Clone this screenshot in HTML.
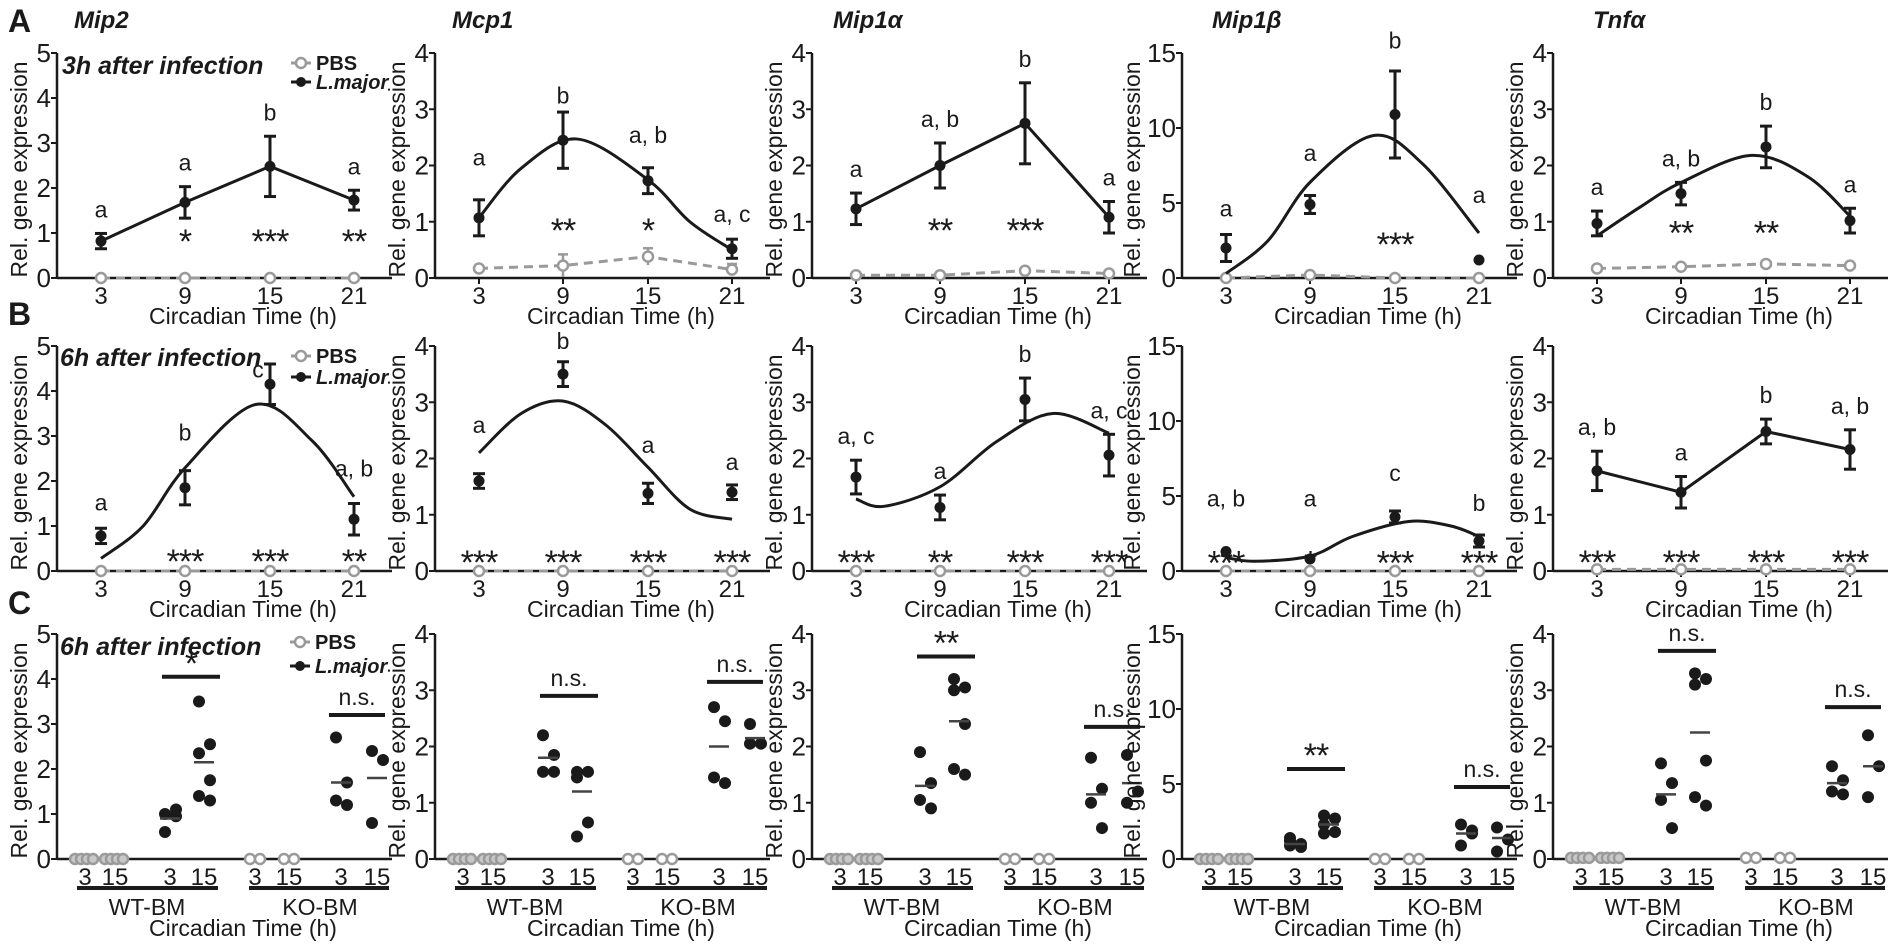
<!DOCTYPE html>
<html><head><meta charset="utf-8"><style>
html,body{margin:0;padding:0;background:#fff;}
svg{display:block;font-family:"Liberation Sans",Arial,sans-serif;}
</style></head><body>
<svg id="s" width="1900" height="944" xmlns="http://www.w3.org/2000/svg"></svg>
<script>
const S=document.getElementById('s');
let out='';
const AX=[57,435,812,1182,1553];
const ROW=[[53,278],[346,571],[634,859]];
const CT={3:44,9:128,15:213,21:297};
const DK='#1a1a1a', GR='#9a9a9a';
function T(x,y,t,o){o=o||{};out+=`<text x="${x}" y="${y}" font-size="${o.fs||20}" ${o.a?`text-anchor="${o.a}"`:''} ${o.fw?`font-weight="${o.fw}"`:''} ${o.it?'font-style="italic"':''} fill="${o.c||DK}" ${o.tr?`transform="${o.tr}"`:''} ${o.ls?`letter-spacing="${o.ls}"`:''}>${t}</text>`;}
function L(x1,y1,x2,y2,c,w,d){out+=`<line x1="${x1}" y1="${y1}" x2="${x2}" y2="${y2}" stroke="${c||DK}" stroke-width="${w||2}" ${d?`stroke-dasharray="${d}"`:''}/>`;}
function C(x,y,r,f,st,sw){out+=`<circle cx="${x}" cy="${y}" r="${r}" fill="${f}" ${st?`stroke="${st}" stroke-width="${sw}"`:''}/>`;}
function axes(p,r,max,step){
  const x0=AX[p],[top,bot]=ROW[r];
  const Y=v=>bot-(v/max)*(bot-top);
  L(x0,top,x0,bot+1,DK,2.5);
  L(x0,bot,x0+335,bot,DK,2.5);
  for(let v=0;v<=max;v+=step){const y=Y(v);L(x0-6,y,x0,y,DK,2);T(x0-6,y+9,v,{fs:26,a:'end'});}
  T(0,0,'Rel. gene expression',{fs:23,a:'middle',tr:`translate(${x0-(max>9?42:30)},${(top+bot)/2+4}) rotate(-90)`});
  return Y;
}
function spline(pts){
  let d=`M${pts[0][0]},${pts[0][1]}`;
  for(let i=0;i<pts.length-1;i++){
    const p0=pts[i-1]||pts[i],p1=pts[i],p2=pts[i+1],p3=pts[i+2]||p2;
    const c1=[p1[0]+(p2[0]-p0[0])/6,p1[1]+(p2[1]-p0[1])/6],c2=[p2[0]-(p3[0]-p1[0])/6,p2[1]-(p3[1]-p1[1])/6];
    d+=` C${c1[0]},${c1[1]} ${c2[0]},${c2[1]} ${p2[0]},${p2[1]}`;
  }
  out+=`<path d="${d}" fill="none" stroke="${DK}" stroke-width="3"/>`;
}
const tx=(p,t)=>AX[p]+44+(t-3)*(253/18);
function stars(x,y,s){T(x,y+20,s,{fs:34,a:'middle',ls:'-1'});}
function timePanel(p,r,max,step,d){
  const Y=axes(p,r,max,step);const bot=ROW[r][1];const x0=AX[p];
  [3,9,15,21].forEach(t=>{const x=x0+CT[t];L(x,bot,x,bot+6,DK,2);T(x,bot+26,t,{fs:24,a:'middle'});});
  T(x0+186,bot+46,'Circadian Time (h)',{fs:23,a:'middle'});
  const ts=[3,9,15,21];
  const pv=d.pbs||[0,0,0,0];
  const pp=ts.map((t,i)=>[x0+CT[t],Y(pv[i])]);
  out+=`<polyline points="${pp.map(q=>q.join(',')).join(' ')}" fill="none" stroke="${GR}" stroke-width="3" stroke-dasharray="9,6"/>`;
  ts.forEach((t,i)=>{if(d.pbse&&d.pbse[i]){const x=pp[i][0];L(x,Y(pv[i]+d.pbse[i]),x,Y(Math.max(0,pv[i]-d.pbse[i])),GR,2.5);L(x-5,Y(pv[i]+d.pbse[i]),x+5,Y(pv[i]+d.pbse[i]),GR,2.5);}
    C(pp[i][0],pp[i][1],5,'#fff',GR,2.5);});
  if(d.curve) spline(d.curve.map(q=>[tx(p,q[0]),Y(q[1])]));
  else out+=`<polyline points="${ts.map((t,i)=>(x0+CT[t])+','+Y(d.m[i])).join(' ')}" fill="none" stroke="${DK}" stroke-width="3"/>`;
  ts.forEach((t,i)=>{const x=x0+CT[t],m=d.m[i],e=d.e[i];
    if(e){L(x,Y(m+e),x,Y(m-e),DK,3);L(x-6,Y(m+e),x+6,Y(m+e),DK,3);L(x-6,Y(m-e),x+6,Y(m-e),DK,3);}
    C(x,Y(m),5.5,DK);
    if(d.let[i]){const ly=d.ly&&d.ly[i]!=null?Y(d.ly[i]):Y(m+e)-16;const lx=d.lx&&d.lx[i]?x+d.lx[i]:x;T(lx,ly,d.let[i],{fs:23,a:'middle'});}
    if(d.st[i])stars(x,Y(d.sy),d.st[i]);
  });
}
function legend(x,y1,y2){
  L(x,y1,x+20,y1,GR,3);C(x+10,y1,5,'#fff',GR,2.5);T(x+25,y1+7,'PBS',{fs:20,fw:'bold'});
  L(x,y2,x+20,y2,DK,3);C(x+10,y2,5,DK);T(x+25,y2+7,'L.major',{fs:20,fw:'bold',it:1});
}
T(8,32,'A',{fs:32,fw:'bold'});T(8,325,'B',{fs:32,fw:'bold'});T(8,614,'C',{fs:32,fw:'bold'});
['Mip2','Mcp1','Mip1α','Mip1β','Tnfα'].forEach((t,i)=>T([74,452,833,1212,1593][i],28,t,{fs:24,fw:'bold',it:1}));
T(62,74,'3h after infection',{fs:25,fw:'bold',it:1});legend(291,63,82);
T(60,366,'6h after infection',{fs:25,fw:'bold',it:1});legend(291,356,377);
T(60,655,'6h after infection',{fs:25,fw:'bold',it:1});legend(290,642,666);

timePanel(0,0,5,1,{m:[0.82,1.68,2.48,1.73],e:[0.17,0.35,0.67,0.22],let:['a','a','b','a'],st:['','*','***','**'],sy:1.0});
timePanel(1,0,4,1,{m:[1.07,2.45,1.73,0.52],e:[0.32,0.5,0.23,0.17],let:['a','b','a, b','a, c'],ly:[2.0,3.1,2.4,1.0],st:['','**','*',''],sy:1.0,
  pbs:[0.17,0.22,0.38,0.15],pbse:[0,0.2,0.15,0.1],curve:[[3,1.07],[6,1.95],[10,2.47],[15,1.75],[18,1.0],[21,0.5]]});
timePanel(2,0,4,1,{m:[1.23,2.0,2.75,1.08],e:[0.28,0.4,0.72,0.28],let:['a','a, b','b','a'],st:['','**','***',''],sy:1.0,pbs:[0.05,0.05,0.13,0.08]});
timePanel(3,0,15,5,{m:[2.0,4.9,10.9,1.2],e:[0.9,0.6,2.9,0],let:['a','a','b','a'],ly:[4.1,7.8,15.3,5.0],st:['','','***',''],sy:2.8,pbs:[0,0.2,0,0],
  curve:[[3,0.3],[6,2.5],[9,6.4],[13.5,9.5],[17,7.6],[21,3.0]]});
timePanel(4,0,4,1,{m:[0.97,1.5,2.33,1.02],e:[0.22,0.2,0.37,0.22],let:['a','a, b','b','a'],st:['','**','**',''],sy:0.95,pbs:[0.17,0.2,0.25,0.22],
  curve:[[3,0.75],[6,1.25],[9,1.7],[14,2.18],[18,1.8],[21,1.1]]});
timePanel(0,1,5,1,{m:[0.78,1.85,4.15,1.15],e:[0.17,0.38,0.45,0.35],let:['a','b','c','a, b'],ly:[1.35,2.9,4.3,2.1],lx:[0,0,-12,0],st:['','***','***','**'],sy:0.4,
  curve:[[3,0.28],[6,1.0],[9,2.3],[14,3.7],[18,2.9],[21,1.65]]});
timePanel(1,1,4,1,{m:[1.6,3.5,1.38,1.4],e:[0.13,0.22,0.18,0.13],let:['a','b','a','a'],ly:[2.45,3.95,2.1,1.8],st:['***','***','***','***'],sy:0.3,
  curve:[[3,2.1],[6,2.8],[9,3.02],[12,2.6],[15,1.85],[18,1.1],[21,0.92]]});
timePanel(2,1,4,1,{m:[1.67,1.13,3.05,2.06],e:[0.3,0.22,0.38,0.37],let:['a, c','a','b','a, c'],st:['***','**','***','***'],sy:0.3,
  curve:[[3,1.28],[5,1.15],[9,1.5],[13,2.3],[17,2.8],[21,2.45]]});
timePanel(3,1,15,5,{m:[1.3,0.8,3.6,2.0],e:[0,0,0.4,0.4],let:['a, b','a','c','b'],ly:[4.3,4.3,6.0,4.0],st:['***','*','***','***'],sy:1.1,
  curve:[[3,0.9],[5,0.65],[9,1.0],[12,2.3],[16,3.3],[19,3.0],[21,2.3]]});
timePanel(4,1,4,1,{m:[1.78,1.4,2.48,2.16],e:[0.35,0.28,0.22,0.35],let:['a, b','a','b','a, b'],st:['***','***','***','***'],sy:0.3,pbs:[0.03,0.03,0.03,0.03]});

function cPanel(p,max,step,d){
  const Y=axes(p,2,max,step);const x0=AX[p],bot=859;
  const off=[28,58,113,147,198,232,284,320];
  ['3','15','3','15','3','15','3','15'].forEach((t,i)=>T(x0+off[i],bot+26,t,{fs:24,a:'middle'}));
  L(x0+20,888,x0+161,888,DK,4);L(x0+192,888,x0+332,888,DK,4);
  T(x0+90,915,'WT-BM',{fs:23,a:'middle'});T(x0+263,915,'KO-BM',{fs:23,a:'middle'});
  T(x0+186,936,'Circadian Time (h)',{fs:23,a:'middle'});
  const pz=d.pz||0;
  [[0,[-10,-4,2,8]],[1,[-10,-4,2,8]],[4,[-5,5]],[5,[-5,5]]].forEach(([g,os])=>os.forEach(o=>C(x0+off[g]+o,Y(pz),5,g<2?'#c8c8c8':'#fff',GR,2.5)));
  [[2,d.w3],[3,d.w15],[6,d.k3],[7,d.k15]].forEach(([g,arr])=>{
    const vals=arr.slice(1);const xs=vals.map((v,i)=>x0+off[g]+((i%2)?6:-5));
    vals.forEach((v,i)=>C(xs[i],Y(v),6,DK));
    L(x0+off[g]-10,Y(arr[0]),x0+off[g]+10,Y(arr[0]),'#444',2.5);
  });
  const b1=d.b1,b2=d.b2;
  L(x0+105,Y(b1[0]),x0+163,Y(b1[0]),DK,4);
  if(b1[1]=='n.s.')T(x0+134,Y(b1[0])-10,'n.s.',{fs:23,a:'middle'});else stars(x0+134,Y(b1[0])-22,b1[1]);
  L(x0+272,Y(b2[0]),x0+328,Y(b2[0]),DK,4);
  T(x0+300,Y(b2[0])-10,'n.s.',{fs:23,a:'middle'});
}
cPanel(0,5,1,{w3:[0.9,1.0,1.1,0.6,0.95],w15:[2.15,3.5,2.55,2.35,1.75,1.4,1.3],k3:[1.7,2.7,1.7,1.3,1.2],k15:[1.8,2.4,2.2,0.8],b1:[4.05,'*'],b2:[3.2]});
cPanel(1,4,1,{w3:[1.8,2.2,1.85,1.55,1.55],w15:[1.2,1.55,1.55,1.45,0.65,0.4],k3:[2.0,2.7,2.45,1.45,1.35],k15:[2.15,2.4,2.05,2.05],b1:[2.9,'n.s.'],b2:[3.15]});
cPanel(2,4,1,{w3:[1.3,1.9,1.35,1.05,0.9],w15:[2.45,3.2,3.05,3.0,2.4,1.6,1.5],k3:[1.15,1.8,1.25,1.0,0.55],k15:[1.35,1.85,1.2,1.0],b1:[3.6,'**'],b2:[2.35]});
cPanel(3,15,5,{w3:[1.0,1.2,1.0,0.9,0.8,1.4],w15:[2.3,2.9,2.7,2.3,1.8,1.7],k3:[1.7,2.3,1.7,0.9,1.9],k15:[1.4,2.1,1.3,0.5],b1:[6.0,'**'],b2:[4.8]});
cPanel(4,4,1,{pz:0.02,w3:[1.15,1.7,1.35,1.05,0.55],w15:[2.25,3.3,3.2,3.1,1.75,1.1,0.95],k3:[1.35,1.65,1.4,1.2,1.15],k15:[1.65,2.2,1.65,1.1],b1:[3.7,'n.s.'],b2:[2.7]});
S.innerHTML=out;
</script>
</body></html>
